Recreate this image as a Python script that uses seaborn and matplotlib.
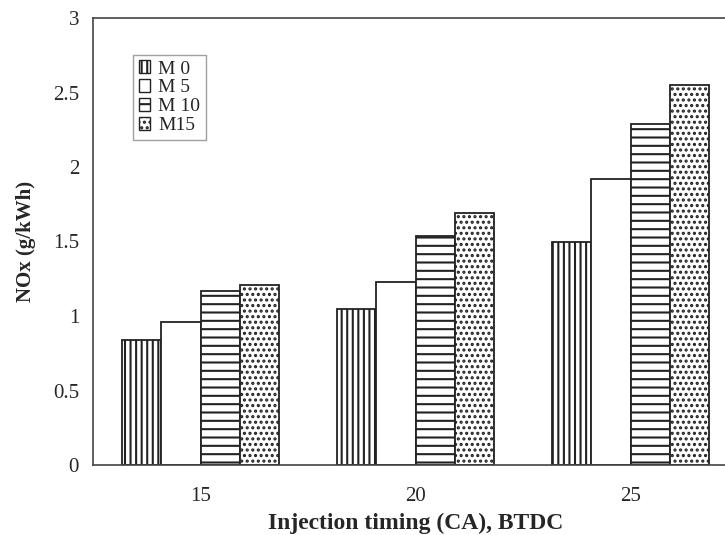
import numpy as np
import pandas as pd
import seaborn as sns
import matplotlib.pyplot as plt
from matplotlib.patches import Patch

timings = ["15", "20", "25"]
blends = ["M 0", "M 5", "M 10", "M15"]
m0 = [0.84, 1.05, 1.50]
m5 = [0.96, 1.23, 1.92]
m10 = [1.17, 1.54, 2.29]
m15 = [1.21, 1.69, 2.55]

df = pd.DataFrame({
    "timing": timings * 4,
    "blend": np.repeat(blends, 3),
    "nox": m0 + m5 + m10 + m15,
})

sns.set_style("white")
plt.rcParams["font.family"] = ["Liberation Serif", "DejaVu Serif"]
plt.rcParams["hatch.linewidth"] = 1.5

fig = plt.figure(figsize=(7.25, 5.35), dpi=100)
ax = fig.add_axes([93 / 725, 70 / 535, 645 / 725, 447 / 535])

sns.barplot(data=df, x="timing", y="nox", hue="blend", hue_order=blends,
            palette=["white"] * 4, edgecolor="black", linewidth=1.3,
            width=0.73, saturation=1, legend=False, ax=ax)

hatches = ["|||", "", "--", "..."]
for cont, h in zip(ax.containers, hatches):
    for bar in cont:
        bar.set_hatch(h)
        bar.set_edgecolor("#222222")

ax.set_ylim(0, 3)
ax.set_xlim(-0.5, 2.5)
ax.set_yticks(np.arange(0, 3.01, 0.5))
ax.set_yticklabels(["0", "0.5", "1", "1.5", "2", "2.5", "3"])
ax.set_xticks([0.5, 1.5], minor=True)
ax.tick_params(axis="x", which="major", length=0, labelsize=15, pad=16)
ax.tick_params(axis="x", which="minor", length=5, direction="out", width=1)
ax.tick_params(axis="y", length=8, direction="inout", width=1, labelsize=15, pad=6)

for side in ["left", "bottom", "top", "right"]:
    ax.spines[side].set_color("#444444")
    ax.spines[side].set_linewidth(1.2)

ax.set_xlabel("Injection timing (CA), BTDC", fontsize=17, fontweight="bold", labelpad=5)
ax.set_ylabel("NOx (g/kWh)", fontsize=15, fontweight="bold", labelpad=12)

handles = [Patch(facecolor="white", edgecolor="#222222", hatch=h, label=b)
           for b, h in zip(blends, hatches)]
ax.legend(handles=handles, loc="upper left", bbox_to_anchor=(0.062, 0.918),
          frameon=True, fancybox=False, edgecolor="#888888", fontsize=14,
          handlelength=0.6, handleheight=0.6, handletextpad=0.4,
          labelspacing=0.1, borderpad=0.3, borderaxespad=0)

fig.savefig("out.png", dpi=100)
